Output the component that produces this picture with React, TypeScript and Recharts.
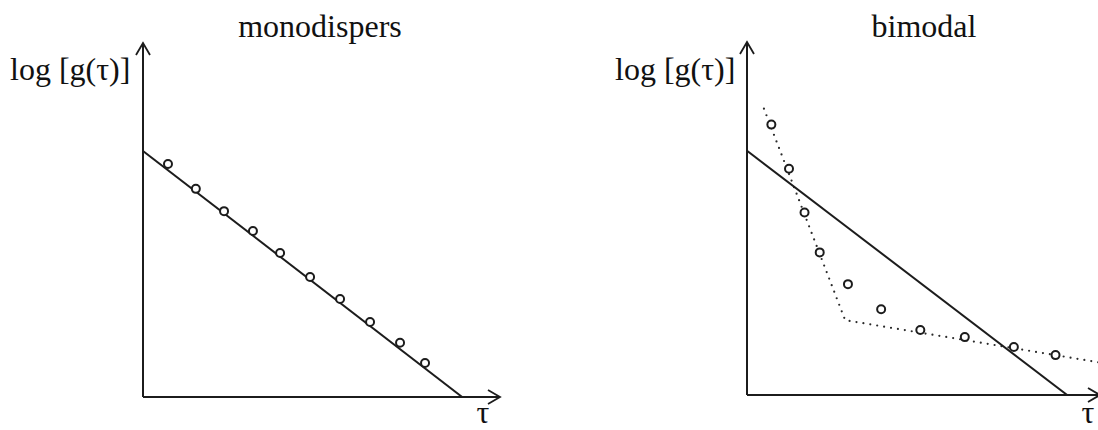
import React from 'react';
import { ComposedChart, Line, Scatter, XAxis, YAxis, ReferenceDot, ReferenceLine } from 'recharts';

// monodisperse sample: measured points and the single-exponential fit
const monoTau = [0.7, 1.48, 2.27, 3.08, 3.84, 4.68, 5.52, 6.36, 7.2, 7.9];
const monoLogG = [6.58, 5.88, 5.25, 4.69, 4.07, 3.39, 2.77, 2.12, 1.53, 0.96];
const monoFitTau = [0, 8.94];
const monoFitLogG = [6.95, 0];

// bimodal sample: measured points, single fit and two-component fit
const biTau = [0.69, 1.19, 1.63, 2.06, 2.86, 3.8, 4.91, 6.17, 7.56, 8.74];
const biLogG = [7.66, 6.41, 5.17, 4.04, 3.14, 2.43, 1.84, 1.64, 1.36, 1.13];
const biFitTau = [0, 9.07];
const biFitLogG = [6.92, 0];
const biTwoTau = [0.48, 2.78, 10];
const biTwoLogG = [8.11, 2.12, 0.92];

const INK = '#1c1c1c';
const FONT = '"Liberation Serif", "Times New Roman", serif';

const zip = (xs: number[], ys: number[]) => xs.map((x, i) => ({ x, y: ys[i] }));

const OpenCircle = (props: any) => {
  const { cx, cy } = props;
  if (cx == null || cy == null) return null;
  return <circle cx={cx} cy={cy} r={4} fill="#fff" stroke={INK} strokeWidth={2} />;
};

const UpArrow = (props: any) => {
  const { cx, cy } = props;
  return (
    <path d={`M${cx - 7},${cy + 12} L${cx},${cy} L${cx + 7},${cy + 12}`} fill="none" stroke={INK} strokeWidth={1.8} />
  );
};

const RightArrow = (props: any) => {
  const { cx, cy } = props;
  return (
    <path d={`M${cx - 12},${cy - 7} L${cx},${cy} L${cx - 12},${cy + 7}`} fill="none" stroke={INK} strokeWidth={1.8} />
  );
};

interface PanelProps {
  width: number;
  margin: { top: number; right: number; bottom: number; left: number };
  points: { x: number; y: number }[];
  fit: { x: number; y: number }[];
  twoFit?: { x: number; y: number }[];
}

function Panel({ width, margin, points, fit, twoFit }: PanelProps) {
  return (
    <ComposedChart width={width} height={430} margin={margin}>
      <XAxis type="number" dataKey="x" domain={[0, 10]} height={0} tick={false} tickLine={false} axisLine={false} allowDataOverflow />
      <YAxis type="number" dataKey="y" domain={[0, 10]} width={0} tick={false} tickLine={false} axisLine={false} allowDataOverflow />
      {/* coordinate axes with open arrowheads */}
      <ReferenceLine x={0} stroke={INK} strokeWidth={2} ifOverflow="visible" />
      <ReferenceLine y={0} stroke={INK} strokeWidth={2} ifOverflow="visible" />
      <ReferenceDot x={0} y={10} shape={UpArrow} ifOverflow="visible" />
      <ReferenceDot x={10} y={0} shape={RightArrow} ifOverflow="visible" />
      {twoFit && (
        <Line
          data={twoFit}
          dataKey="y"
          type="linear"
          stroke="#2a2a2a"
          strokeWidth={2.2}
          strokeDasharray="0 7"
          strokeLinecap="round"
          dot={false}
          activeDot={false}
          isAnimationActive={false}
        />
      )}
      <Line data={fit} dataKey="y" type="linear" stroke={INK} strokeWidth={2} dot={false} activeDot={false} isAnimationActive={false} />
      <Scatter data={points} dataKey="y" shape={OpenCircle} isAnimationActive={false} />
    </ComposedChart>
  );
}

const label = (left: number, top: number, text: string, center = false): React.ReactNode => (
  <div
    style={{
      position: 'absolute',
      left,
      top,
      fontFamily: FONT,
      fontSize: 32,
      lineHeight: '32px',
      color: '#111',
      whiteSpace: 'nowrap',
      transform: center ? 'translateX(-50%)' : undefined,
    }}
  >
    {text}
  </div>
);

export default function App() {
  return (
    <div style={{ position: 'absolute', left: 0, top: 0, width: 1098, height: 430, overflow: 'hidden', background: '#fff' }}>
      <div style={{ position: 'absolute', left: 0, top: 0 }}>
        <Panel
          width={549}
          margin={{ top: 43, right: 49, bottom: 33, left: 143 }}
          points={zip(monoTau, monoLogG)}
          fit={zip(monoFitTau, monoFitLogG)}
        />
      </div>
      <div style={{ position: 'absolute', left: 549, top: 0 }}>
        <Panel
          width={600}
          margin={{ top: 42, right: 49, bottom: 35, left: 198 }}
          points={zip(biTau, biLogG)}
          fit={zip(biFitTau, biFitLogG)}
          twoFit={zip(biTwoTau, biTwoLogG)}
        />
      </div>
      {label(320, 10, 'monodispers', true)}
      {label(924, 10, 'bimodal', true)}
      {label(10, 53, 'log [g(τ)]')}
      {label(615, 53, 'log [g(τ)]')}
      {label(483, 396, 'τ', true)}
      {label(1088, 396, 'τ', true)}
    </div>
  );
}
